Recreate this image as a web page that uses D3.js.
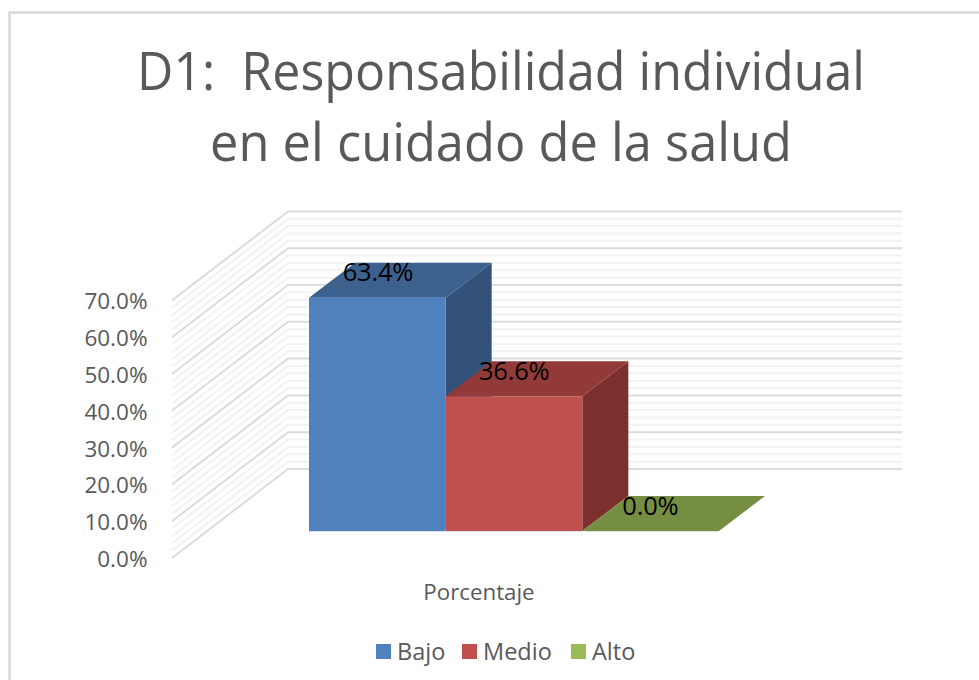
<!DOCTYPE html>
<html><head><meta charset="utf-8">
<script src="https://cdn.jsdelivr.net/npm/d3@7/dist/d3.min.js"></script>
<style>html,body{margin:0;padding:0;background:#fff;overflow:hidden}text{font-family:"Open Sans","Noto Sans",sans-serif}</style>
</head><body><script>
const titleLines=["D1:  Responsabilidad individual","en el cuidado de la salud"];
const titleWidths=[728,582];
const categories=["Bajo","Medio","Alto"];
const values=[63.4,36.6,0.0];
const frontColors=["#4f81bd","#c0504d","#9bbb59"];
const topColors=["#3d618e","#913a38","#758e42"];
const sideColors=["#325279","#7c302e","#647a38"];
const yTicks=[0,10,20,30,40,50,60,70];
const axisCategory="Porcentaje";

const svg=d3.select("body").append("svg").attr("width",979).attr("height",680);
// frame
svg.append("path").attr("d","M9.5,680V12.5H979").attr("fill","none").attr("stroke","#d9d9d9").attr("stroke-width",2.5);

const wallDX=116,wallDY=-89,depthDX=46,depthDY=-35;
const yWall=d3.scaleLinear().domain([0,70]).range([558,300.4]);
const barBase=531;
const pxPerUnit=yWall(0)-yWall(1);
const x=d3.scaleBand().domain(categories).range([309,719]);
const xLeft=172,xBack=xLeft+wallDX,xRight=902;

// gridlines
const minorTicks=d3.range(0,70.01,2);
const g=svg.append("g");
minorTicks.filter(v=>v%10!==0).forEach(v=>{
  const y=yWall(v);
  g.append("path").attr("d",`M${xLeft},${y}L${xBack},${y+wallDY}H${xRight}`)
   .attr("fill","none").attr("stroke","#f2f2f2").attr("stroke-width",2);
});
yTicks.forEach(v=>{
  const y=yWall(v);
  g.append("path").attr("d",`M${xLeft},${y}L${xBack},${y+wallDY}H${xRight}`)
   .attr("fill","none").attr("stroke","#dcdcdc").attr("stroke-width",2);
});
// axis labels
svg.append("g").selectAll("text").data(yTicks).join("text")
  .attr("x",147.5).attr("y",v=>yWall(v)+9).attr("text-anchor","end")
  .attr("font-size",22.5).attr("fill","#595959")
  .text(v=>d3.format(".1f")(v)+"%");

// bars
const bars=svg.append("g");
categories.forEach((c,i)=>{
  const x0=x(c),w=x.bandwidth(),h=values[i]*pxPerUnit,yt=barBase-h;
  bars.append("path").attr("fill",sideColors[i])
    .attr("d",`M${x0+w},${yt}l${depthDX},${depthDY}V${barBase+depthDY}L${x0+w},${barBase}Z`);
  bars.append("path").attr("fill",topColors[i])
    .attr("d",`M${x0},${yt}l${depthDX},${depthDY}h${w}l${-depthDX},${-depthDY}Z`);
  if(h>0) bars.append("rect").attr("x",x0).attr("y",yt).attr("width",w).attr("height",h).attr("fill",frontColors[i]);
});
svg.append("path").attr("d",`M${x.range()[0]},${barBase+.5}H${x.range()[1]}`).attr("stroke","#dfe3ea").attr("stroke-width",1);

// data labels
const labelDX=[69,68.5,68];
svg.append("g").selectAll("text").data(values).join("text")
  .attr("x",(v,i)=>x(categories[i])+labelDX[i]).attr("text-anchor","middle")
  .attr("y",v=>barBase-v*pxPerUnit-16.5)
  .attr("font-size",25.5).attr("fill","#000").attr("letter-spacing",-0.2)
  .text(v=>d3.format(".1f")(v)+"%");

// title
svg.append("g").selectAll("text").data(titleLines).join("text")
  .attr("x",(d,i)=>501-titleWidths[i]/2).attr("y",(d,i)=>90+i*71)
  .attr("font-size",53).attr("fill","#595959").style("white-space","pre")
  .attr("textLength",(d,i)=>titleWidths[i]).attr("lengthAdjust","spacingAndGlyphs")
  .text(d=>d);

// category
svg.append("text").attr("x",479).attr("y",600).attr("text-anchor","middle")
  .attr("font-size",22.3).attr("fill","#595959").text(axisCategory);

// legend
const legendX=[376,462,571];
const lg=svg.append("g");
categories.forEach((c,i)=>{
  lg.append("rect").attr("x",legendX[i]).attr("y",644).attr("width",15).attr("height",15).attr("fill",frontColors[i]);
  lg.append("text").attr("x",legendX[i]+21).attr("y",660).attr("font-size",23.5).attr("fill","#595959").text(c);
});
</script></body></html>
